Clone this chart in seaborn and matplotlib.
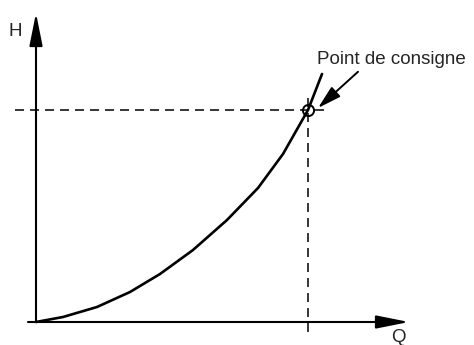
import pandas as pd
import seaborn as sns
import matplotlib.pyplot as plt

q_vals = [0, 27, 61, 94, 124, 157, 191, 222, 247, 272, 286]
h_vals = [0, 5, 15, 30, 48, 72, 102, 134, 168, 212, 248]

# point de consigne
q_set = 272
h_set = 212

label_point = "Point de consigne"
label_x = "Q"
label_y = "H"

df = pd.DataFrame({"Q": q_vals, "H": h_vals})

sns.set_style("white")
plt.rcParams["font.family"] = ["Liberation Sans", "DejaVu Sans"]

fig = plt.figure(figsize=(4.74, 3.45), dpi=100)
ax = fig.add_axes([0, 0, 1, 1])
ax.set_xlim(-36, 438)
ax.set_ylim(-23, 322)
ax.axis("off")

#axes avec fleches
axis_arrow = dict(arrowstyle="-|>,head_length=1.0,head_width=0.2",
                  color="black", lw=1.5, shrinkA=0, shrinkB=0,
                  mutation_scale=20)
ax.annotate("", xy=(373, 0), xytext=(-8, 0), arrowprops=axis_arrow)
ax.annotate("", xy=(0, 309), xytext=(0, 0), arrowprops=axis_arrow)

#lignes pointillees vers le point de consigne
dash = (0, (6.5 / 1.1, 4.3 / 1.1))
ax.plot([-21, q_set + 20], [h_set, h_set], color="black", lw=1.1, linestyle=dash)
ax.plot([q_set, q_set], [h_set + 12, -15], color="black", lw=1.1, linestyle=dash)

#courbe
sns.lineplot(data=df, x="Q", y="H", color="black", linewidth=1.9, ax=ax)

#cercle
ax.plot([q_set], [h_set], marker="o", markersize=8, markerfacecolor="none",
        markeredgecolor="black", markeredgewidth=1.4, linestyle="none")

ax.annotate(label_point, xy=(q_set + 10, h_set + 2), xytext=(281, 262),
            fontsize=13.5, va="center", ha="left",
            arrowprops=dict(arrowstyle="-|>,head_length=0.9,head_width=0.25",
                            color="black", lw=1.4, shrinkA=0, shrinkB=0,
                            mutation_scale=16, relpos=(0.3, 0)))

ax.text(-21, 290, label_y, fontsize=13.5, ha="center", va="center")
ax.text(362, -16, label_x, fontsize=13.5, ha="center", va="center")

fig.savefig("out.png", dpi=100)
